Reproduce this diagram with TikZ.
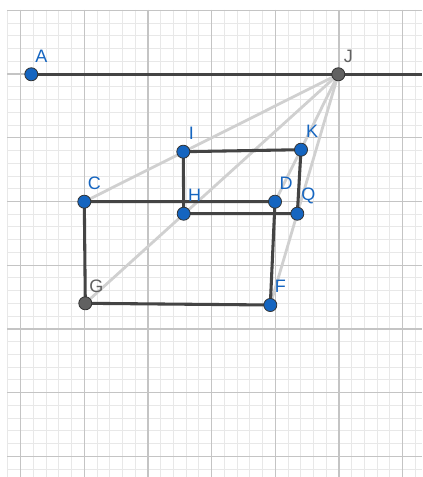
\documentclass[tikz,border=0pt]{standalone}
\usepackage{fontspec}
\setmainfont{Liberation Sans}
\definecolor{ggblue}{HTML}{1565C0}
\definecolor{gggrey}{HTML}{616161}
\definecolor{segdark}{HTML}{444444}
\definecolor{seglight}{HTML}{D0D0D0}
\definecolor{gridmajor}{HTML}{C4C4C4}
\definecolor{gridminor}{HTML}{E8E8E8}
\tikzset{
  seg/.style={draw=segdark, line width=2.3pt, line cap=round},
  proj/.style={draw=seglight, line width=2.1pt},
  bpt/.style={circle, fill=ggblue, draw=black!80, line width=0.6pt, minimum size=9.8pt, inner sep=0pt},
  gpt/.style={circle, fill=gggrey, draw=black!80, line width=0.6pt, minimum size=9.8pt, inner sep=0pt},
  blab/.style={text=ggblue, font=\fontsize{13.5}{14}\selectfont, inner sep=0pt},
  glab/.style={text=gggrey, font=\fontsize{13.5}{14}\selectfont, inner sep=0pt},
}
\begin{document}
\begin{tikzpicture}[x=0.75pt, y=-0.75pt]
\useasboundingbox (0,0) rectangle (422,477);
\fill[white] (0,0) rectangle (422,477);
% grid
\begin{scope}
\clip (7,10) rectangle (422,477);
\foreach \k in {-1,...,32} {
  \draw[gridminor, line width=0.75pt] ({20.7+\k*12.73},10) -- ({20.7+\k*12.73},477);
}
\foreach \k in {0,...,37} {
  \draw[gridminor, line width=0.75pt] (7,{10.4+\k*12.74}) -- (422,{10.4+\k*12.74});
}
\foreach \k in {0,...,6} {
  \draw[gridmajor, line width=1pt] ({20.7+\k*63.63},10) -- ({20.7+\k*63.63},477);
}
\foreach \k in {0,...,7} {
  \draw[gridmajor, line width=1pt] (7,{10.4+\k*63.7}) -- (422,{10.4+\k*63.7});
}
\end{scope}
% coordinates
\coordinate (a) at (31.3,74.3);
\coordinate (j) at (338.3,74.3);
\coordinate (i) at (183.3,151.7);
\coordinate (k) at (301,149.7);
\coordinate (c) at (84.3,201.7);
\coordinate (d) at (275,201.7);
\coordinate (h) at (183.7,213.7);
\coordinate (q) at (297.3,213.7);
\coordinate (g) at (85.3,303.3);
\coordinate (f) at (270.3,305);
\coordinate (rayend) at (422,74.3);
% projection lines
\draw[proj] (j) -- (c);
\draw[proj] (j) -- (g);
\draw[proj] (j) -- (d);
\draw[proj] (j) -- (f);
% segments
\draw[seg, line cap=butt] (a) -- (rayend);
\draw[seg] (i) -- (k) -- (q) -- (h) -- cycle;
\draw[seg] (c) -- (d) -- (f) -- (g) -- cycle;
% points
\node[bpt] (A) at (a) {};
\node[gpt] (J) at (j) {};
\node[bpt] (I) at (i) {};
\node[bpt] (K) at (k) {};
\node[bpt] (C) at (c) {};
\node[bpt] (D) at (d) {};
\node[bpt] (H) at (h) {};
\node[bpt] (Q) at (q) {};
\node[gpt] (G) at (g) {};
\node[bpt] (F) at (f) {};
% labels
\node[blab] (lA) at ([shift={(10,-18)}]a) {A};
\node[glab] (lJ) at ([shift={(10,-18)}]j) {J};
\node[blab] (lI) at ([shift={(8,-18)}]i) {I};
\node[blab] (lK) at ([shift={(11,-18)}]k) {K};
\node[blab] (lC) at ([shift={(10,-18)}]c) {C};
\node[blab] (lD) at ([shift={(11,-18)}]d) {D};
\node[blab] (lH) at ([shift={(11,-18)}]h) {H};
\node[blab] (lQ) at ([shift={(11,-18)}]q) {Q};
\node[glab] (lG) at ([shift={(11,-17)}]g) {G};
\node[blab] (lF) at ([shift={(10,-19)}]f) {F};
\end{tikzpicture}
\end{document}
